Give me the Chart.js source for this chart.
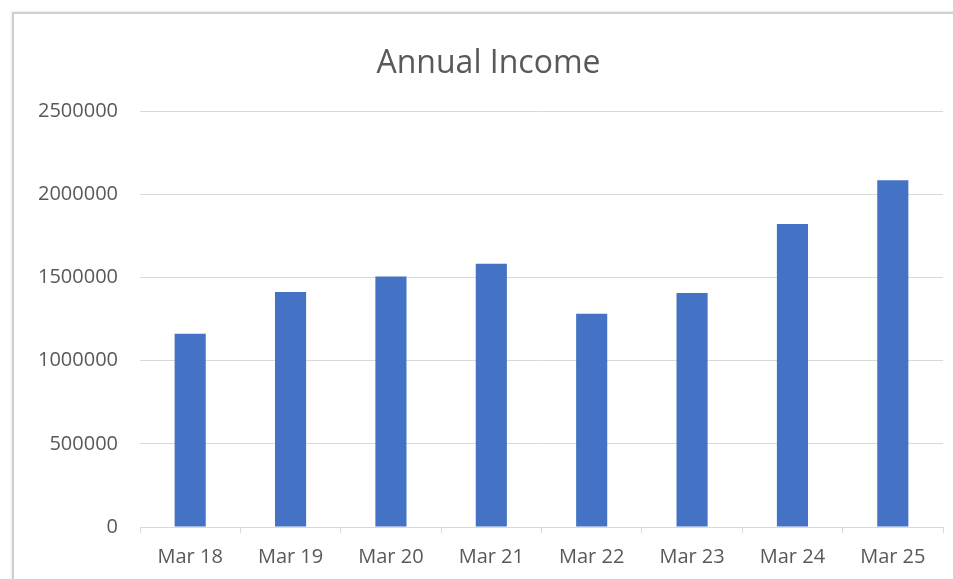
<!DOCTYPE html>
<html>
<head>
<meta charset="utf-8">
<script src="https://cdn.jsdelivr.net/npm/chart.js@4.4.1/dist/chart.umd.min.js"></script>
<style>
    html, body { margin: 0; padding: 0; background: #fff; }
    #wrap { position: relative; width: 953px; height: 579px; overflow: hidden; }
    #card {
        position: absolute; left: 12px; top: 12px; width: 1000px; height: 600px;
        border-left: 2px solid #cfcfcf; border-top: 2px solid #cfcfcf;
        box-shadow: -1px -1px 2px rgba(0,0,0,0.08);
        pointer-events: none;
    }
    canvas { position: absolute; left: 0; top: 0; }
</style>
</head>
<body>
<div id="wrap">
    <div id="card"></div>
    <canvas id="incomeChart" width="953" height="579"></canvas>
</div>
<script>
const years = ["Mar 18", "Mar 19", "Mar 20", "Mar 21", "Mar 22", "Mar 23", "Mar 24", "Mar 25"];
const income = [1162000, 1414000, 1507000, 1584000, 1283000, 1408000, 1823000, 2086000];
const yTicks = [0, 500000, 1000000, 1500000, 2000000, 2500000];

const grey = "#595959";
const font = "'Open Sans', 'Noto Sans', sans-serif";

new Chart(document.getElementById("incomeChart"), {
    type: "bar",
    data: {
        labels: years,
        datasets: [{ label: "Annual Income", data: income, backgroundColor: "#4472c4", barPercentage: 0.31, categoryPercentage: 1 }]
    },
    options: {
        responsive: false,
        animation: false,
        layout: { padding: { left: 34, right: 10, top: 20, bottom: 0 } },
        plugins: {
            legend: { display: false },
            tooltip: { enabled: false },
            title: {
                display: true,
                text: "Annual Income",
                color: grey,
                font: { family: font, size: 32, weight: "normal" },
                padding: { top: 25, bottom: 28 }
            }
        },
        scales: {
            x: {
                grid: { drawOnChartArea: false, color: "#d9d9d9", tickLength: 6 },
                border: { color: "#d9d9d9", width: 1 },
                ticks: { color: grey, font: { family: font, size: 20 }, padding: 12, maxRotation: 0 },
                afterFit: s => { s.height = 52; }
            },
            y: {
                min: 0,
                max: yTicks[yTicks.length - 1],
                afterBuildTicks: s => { s.ticks = yTicks.map(v => ({ value: v })); },
                grid: { color: "#d9d9d9", drawTicks: false },
                border: { display: false },
                ticks: { color: grey, font: { family: font, size: 20 }, padding: 22, callback: v => String(v) },
                afterFit: s => { s.width = 106; }
            }
        }
    }
});
</script>
</body>
</html>
